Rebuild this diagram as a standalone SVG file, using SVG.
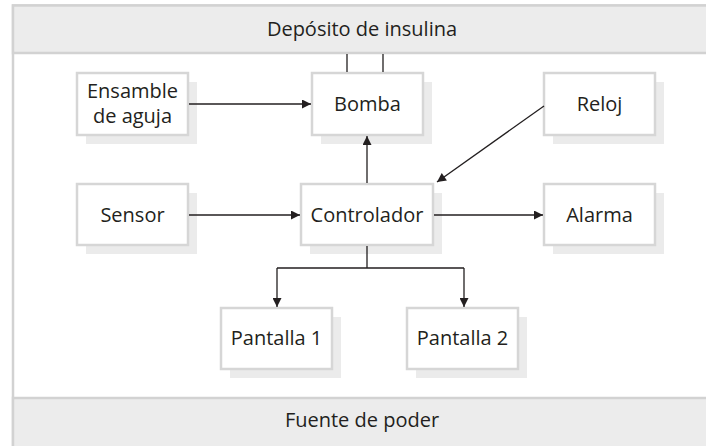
<svg xmlns="http://www.w3.org/2000/svg" width="706" height="446" viewBox="0 0 706 446">
<defs>
<style>
.bar{fill:#ececec;stroke:#d2d2d2;stroke-width:2.5}
.frame{fill:#ffffff;stroke:#d2d2d2;stroke-width:2.5}
.box{fill:#ffffff;stroke:#d6d6d6;stroke-width:2.5}
.sh{fill:#ebebeb}
.t{font-family:"Open Sans","Noto Sans",sans-serif;font-size:20px;fill:#231f20;text-anchor:middle}
.ln{fill:none;stroke:#231f20;stroke-width:1.3}
</style>
<marker id="ah" viewBox="0 0 10 10" refX="10" refY="5" markerWidth="14" markerHeight="9" markerUnits="userSpaceOnUse" orient="auto">
<path d="M0,0 L10,5 L0,10 z" fill="#231f20"/>
</marker>
</defs>
<rect x="0" y="0" width="706" height="446" fill="#ffffff"/>
<rect class="frame" x="13" y="5.5" width="700" height="445"/>
<g id="deposito">
<rect class="bar" x="13" y="5.5" width="700" height="47.5"/>
<text class="t" x="362" y="36">Depósito de insulina</text>
</g>
<g id="fuente">
<rect class="bar" x="13" y="398" width="700" height="52"/>
<text class="t" x="362" y="427">Fuente de poder</text>
</g>
<g id="ensamble">
<rect class="sh" x="86" y="82" width="111" height="62"/>
<rect class="box" x="77" y="73" width="111" height="62"/>
<text class="t" x="132.5" y="98">Ensamble</text>
<text class="t" x="132.5" y="123">de aguja</text>
</g>
<g id="bomba">
<rect class="sh" x="321" y="82" width="111" height="62"/>
<rect class="box" x="312" y="73" width="111" height="62"/>
<text class="t" x="367.5" y="111">Bomba</text>
</g>
<g id="reloj">
<rect class="sh" x="553" y="82" width="111" height="62"/>
<rect class="box" x="544" y="73" width="111" height="62"/>
<text class="t" x="599.5" y="111">Reloj</text>
</g>
<g id="sensor">
<rect class="sh" x="86" y="193" width="111" height="61"/>
<rect class="box" x="77" y="184" width="111" height="61"/>
<text class="t" x="132.5" y="222">Sensor</text>
</g>
<g id="controlador">
<rect class="sh" x="310" y="193" width="132" height="61"/>
<rect class="box" x="301" y="184" width="132" height="61"/>
<text class="t" x="367" y="222">Controlador</text>
</g>
<g id="alarma">
<rect class="sh" x="553" y="193" width="111" height="61"/>
<rect class="box" x="544" y="184" width="111" height="61"/>
<text class="t" x="599.5" y="222">Alarma</text>
</g>
<g id="pantalla1">
<rect class="sh" x="230" y="317" width="111" height="61"/>
<rect class="box" x="221" y="308" width="111" height="61"/>
<text class="t" x="276.5" y="345">Pantalla 1</text>
</g>
<g id="pantalla2">
<rect class="sh" x="416" y="317" width="111" height="61"/>
<rect class="box" x="407" y="308" width="111" height="61"/>
<text class="t" x="462.5" y="345">Pantalla 2</text>
</g>
<g id="connectors">
<line class="ln" x1="347" y1="54" x2="347" y2="72"/>
<line class="ln" x1="383" y1="54" x2="383" y2="72"/>
<line class="ln" x1="189" y1="104" x2="311" y2="104" marker-end="url(#ah)"/>
<line class="ln" x1="189" y1="215" x2="300" y2="215" marker-end="url(#ah)"/>
<line class="ln" x1="434" y1="215" x2="543" y2="215" marker-end="url(#ah)"/>
<line class="ln" x1="367" y1="183" x2="367" y2="136" marker-end="url(#ah)"/>
<line class="ln" x1="544" y1="106" x2="437" y2="182" marker-end="url(#ah)"/>
<path class="ln" d="M367,246 V268 M277,268 H464"/>
<line class="ln" x1="277" y1="268" x2="277" y2="307" marker-end="url(#ah)"/>
<line class="ln" x1="464" y1="268" x2="464" y2="307" marker-end="url(#ah)"/>
</g>
</svg>
